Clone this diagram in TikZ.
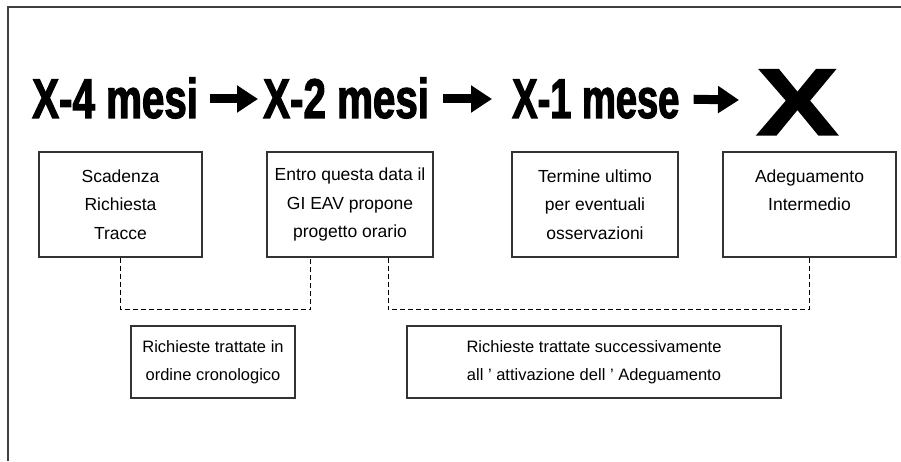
\documentclass[tikz,border=0pt]{standalone}
\usepackage{fontspec}
\setmainfont{Liberation Sans}
\newfontfamily\headfont[UprightFont={* Bold},FakeStretch=0.72,FakeBold=2]{Liberation Sans}
\newfontfamily\headfontn[UprightFont={* Bold},FakeStretch=0.68,FakeBold=2]{Liberation Sans}
\newfontfamily\bigxfont[UprightFont={* Bold},FakeStretch=1.3,FakeBold=1.5]{Liberation Sans}
\usetikzlibrary{arrows.meta}
\tikzset{
    head/.style={anchor=base west, inner sep=0pt, font=\headfont\fontsize{56}{56}\selectfont},
    bigarrow/.style={line width=9pt, -{Triangle[length=21pt,width=26pt]}},
    tbox/.style={draw=black!80, line width=1.2pt, minimum height=105pt, align=center, inner sep=0pt, font=\fontsize{17.5}{28.5}\selectfont},
    lbox/.style={draw=black!80, line width=1.2pt, minimum height=72pt, align=center, inner sep=0pt, font=\fontsize{16.5}{28}\selectfont},
    link/.style={line width=1.3pt, dash pattern=on 5pt off 3pt},
}
\begin{document}
\begin{tikzpicture}[x=1pt,y=1pt]
\useasboundingbox (0,0) rectangle (901,461);
\draw[line width=1.8pt, black!75] (8,0) -- (8,454) -- (901,454);

\node[head] (h1) at (32,343) {X-4 mesi};
\node[head] (h2) at (263,343) {X-2 mesi};
\node[head, font=\headfontn\fontsize{56}{56}\selectfont] (h3) at (512,343) {X-1 mese};
\node[anchor=base west, inner sep=0pt, font=\bigxfont\fontsize{95}{95}\selectfont] (h4) at (756,326) {X};
\draw[bigarrow, shorten <=12pt, shorten >=5pt] ([yshift=19pt]h1.base east) -- ([yshift=19pt]h2.base west);
\draw[bigarrow, shorten <=14pt, shorten >=20pt] ([yshift=19pt]h2.base east) -- ([yshift=19pt]h3.base west);
\draw[bigarrow, shorten <=14pt, shorten >=17pt] ([yshift=19pt]h3.base east) -- ([yshift=2pt]h4.west);

\node[tbox, minimum width=163pt] (b1) at (120.5,256.5) {Scadenza\\Richiesta\\Tracce};
\node[tbox, minimum width=166pt] (b2) at (350,256.5) {Entro questa data il\\GI EAV propone\\progetto orario};
\node[tbox, minimum width=166pt] (b3) at (595,256.5) {Termine ultimo\\per eventuali\\osservazioni};
\node[tbox, minimum width=173pt] (b4) at (809.5,256.5) {Adeguamento\\Intermedio\\~};

\node[lbox, minimum width=164pt] (l1) at (213,99) {Richieste trattate in\\ordine cronologico};
\node[lbox, minimum width=374pt] (l2) at (594,99) {Richieste trattate successivamente\\all ' attivazione dell ' Adeguamento};

\draw[link] (b1.south) -- ++(0,-52) -| ([xshift=44pt]b2.south west);
\draw[link] ([xshift=122pt]b2.south west) -- ++(0,-52) -| (b4.south);
\end{tikzpicture}
\end{document}
